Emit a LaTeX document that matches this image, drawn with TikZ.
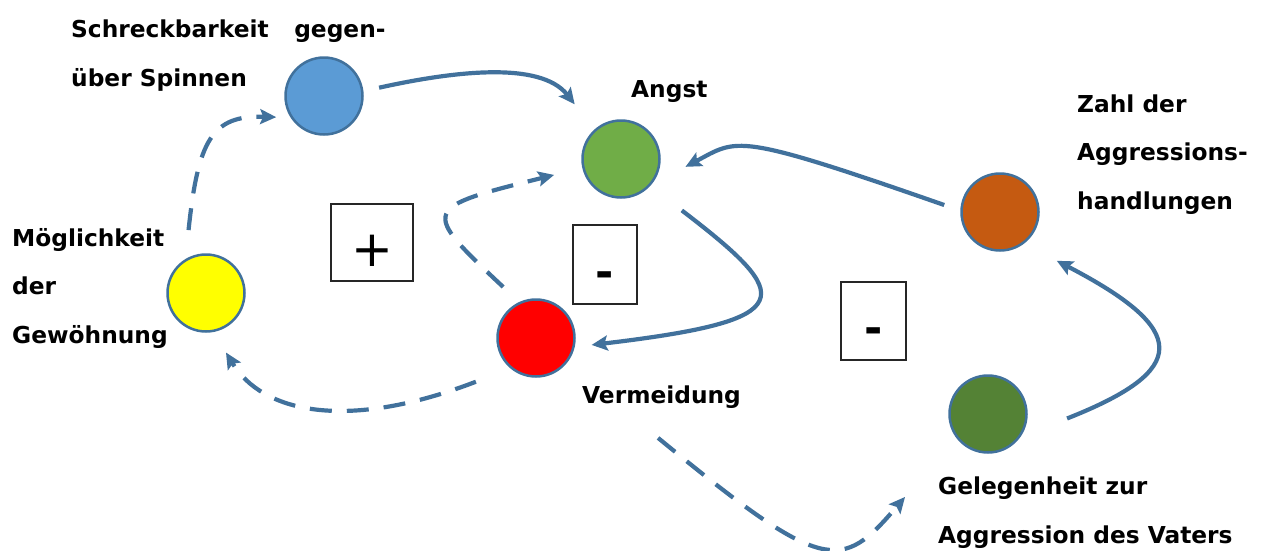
\documentclass[tikz,border=0pt]{standalone}
\usepackage{fontspec}
\newfontfamily\lblfont{DejaVu Sans}
\usetikzlibrary{arrows.meta}
\definecolor{arrowc}{RGB}{65,113,156}
\definecolor{cborder}{RGB}{65,113,156}
\definecolor{cblue}{RGB}{91,155,213}
\definecolor{cgreen}{RGB}{112,173,71}
\definecolor{cred}{RGB}{255,0,0}
\definecolor{cyellow}{RGB}{255,255,0}
\definecolor{corange}{RGB}{197,90,17}
\definecolor{cdgreen}{RGB}{84,130,53}
\begin{document}
\begin{tikzpicture}[x=1pt,y=-1pt,
  state/.style={circle, draw=cborder, line width=2.5pt, minimum size=77pt, inner sep=0pt},
  lbl/.style={anchor=base west, align=left, inner sep=0pt, font=\lblfont\bfseries\fontsize{23.3pt}{48.5pt}\selectfont},
  signbox/.style={draw=black!85, line width=1.3pt, inner sep=0pt},
  link/.style={draw=arrowc, line width=4.2pt, -{Stealth[length=16pt,width=15pt,inset=3pt]}},
  dlink/.style={link, dash pattern=on 22pt off 15pt},
]
\useasboundingbox (0,0) rectangle (1264,550);
% states
\node[state, fill=cblue] (blue) at (324,96) {};
\node[state, fill=cgreen] (angst) at (621,159) {};
\node[state, fill=cred] (red) at (536,338) {};
\node[state, fill=cyellow] (yellow) at (206,293) {};
\node[state, fill=corange] (orange) at (1000,212) {};
\node[state, fill=cdgreen] (dgreen) at (988,414) {};
% labels (anchor = baseline of the last line)
\node[lbl] (tblue) at (71,86) {Schreckbarkeit\hspace{1.1em}gegen-\\über Spinnen};
\node[lbl] (tangst) at (631,97) {Angst};
\node[lbl] (torange) at (1077,209) {Zahl der\\Aggressions-\\handlungen};
\node[lbl] (tyellow) at (12,343) {Möglichkeit\\der\\Gewöhnung};
\node[lbl] (tred) at (582,403) {Vermeidung};
\node[lbl] (tdgreen) at (938,543) {Gelegenheit zur\\Aggression des Vaters};
% sign boxes
\node[signbox, minimum width=82pt, minimum height=77pt, font=\lblfont\fontsize{50pt}{50pt}\selectfont, text height=47.5pt, text depth=0pt] (plus) at (372,242.5) {+};
\node[signbox, minimum width=64pt, minimum height=79pt, font=\lblfont\bfseries\fontsize{44pt}{44pt}\selectfont, text height=45pt, text depth=0pt] (minusa) at (605,264.5) {-};
\node[signbox, minimum width=65pt, minimum height=78pt, font=\lblfont\bfseries\fontsize{44pt}{44pt}\selectfont, text height=45pt, text depth=0pt] (minusb) at (873.5,321) {-};
% connectors
\draw[link, shorten <=16pt, shorten >=32pt] (blue.7) .. controls (450,72) and (540,60) .. (angst.132);
\draw[link, shorten <=17pt, shorten >=39pt] (orange.178) .. controls (733.5,131.4) and (738,139) .. (angst.-41.5);
\draw[link, shorten <=40pt, shorten >=17pt] (angst.-43) .. controls (795,297) and (802,320) .. (red.-13);
\draw[link, shorten <=50pt, shorten >=37pt] (dgreen.-35) .. controls (1190,370) and (1190,330) .. (orange.-53);
\draw[dlink, shorten <=29pt, shorten >=14.5pt] (yellow.121) .. controls (198,140) and (212,115) .. (blue.213);
\draw[dlink, shorten <=22pt, shorten >=29pt] (red.115) .. controls (420,209) and (421,208) .. (angst.193);
\draw[dlink, shorten <=37pt, shorten >=24pt] (red.230) .. controls (345,432) and (262,412) .. (yellow.-79);
\draw[dlink, shorten <=118pt, shorten >=78.3pt] (red.-39.3) .. controls (825,575) and (841,572) .. (dgreen.216);
\end{tikzpicture}
\end{document}
